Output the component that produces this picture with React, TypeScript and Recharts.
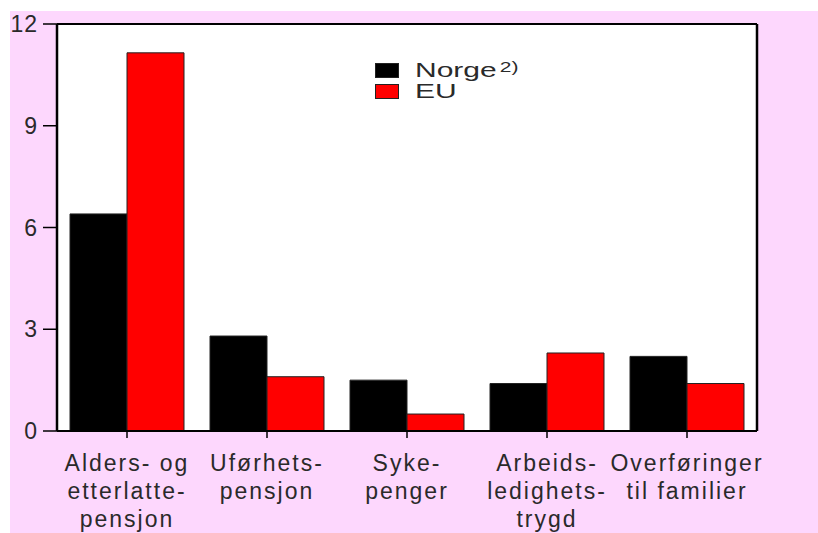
import { FC } from "react";
import {
  BarChart,
  Bar,
  XAxis,
  YAxis,
  ReferenceArea,
  ReferenceLine,
} from "recharts";

const categories = [
  "Alders- og|etterlatte-|pensjon",
  "Uførhets-|pensjon",
  "Syke-|penger",
  "Arbeids-|ledighets-|trygd",
  "Overføringer|til familier",
];
const norge = [6.4, 2.8, 1.5, 1.4, 2.2];
const eu = [11.15, 1.6, 0.5, 2.3, 1.4];
const yTicks = [0, 3, 6, 9, 12];

const data = categories.map((c, i) => ({ name: c, norge: norge[i], eu: eu[i] }));

const FONT = "'Liberation Sans', Arial, sans-serif";
const TEXT = "#2a2a2a";

const CategoryTick = (props: any) => {
  const { x, payload } = props;
  const lines = String(payload.value).split("|");
  return (
    <text
      x={x}
      y={471}
      textAnchor="middle"
      fill={TEXT}
      fontSize={23}
      fontFamily={FONT}
      letterSpacing={2}
    >
      {lines.map((l, i) => (
        <tspan key={i} x={x} dy={i === 0 ? 0 : 28}>
          {l}
        </tspan>
      ))}
    </text>
  );
};

const LegendBox: FC = () => (
  <div
    style={{
      position: "absolute",
      left: 375,
      top: 60,
      fontFamily: FONT,
      color: TEXT,
      fontSize: 20,
      lineHeight: "20px",
    }}
  >
    {[
      { label: "Norge", sup: "2)", color: "#000" },
      { label: "EU", sup: "", color: "#ff0000" },
    ].map((it) => (
      <div key={it.label} style={{ display: "flex", alignItems: "center", height: 20, marginBottom: 1 }}>
        <span
          style={{
            display: "inline-block",
            width: 22,
            height: 13,
            background: it.color,
            border: "1px solid #222",
            marginRight: 16,
          }}
        />
        <span style={{ display: "inline-block", transform: "scaleX(1.5)", transformOrigin: "left center" }}>
          {it.label}
          {it.sup && (
            <span style={{ fontSize: 14, lineHeight: "14px", position: "relative", top: -5, marginLeft: 2 }}>
              {it.sup}
            </span>
          )}
        </span>
      </div>
    ))}
  </div>
);

const App: FC = () => {
  return (
    <div style={{ position: "absolute", left: 0, top: 0, width: 818, height: 533, background: "#fff" }}>
      <div
        style={{
          position: "absolute",
          left: 10,
          top: 11,
          width: 808,
          height: 522,
          background: "#fdd7fd",
        }}
      />
      <div style={{ position: "absolute", left: 0, top: 0 }}>
        <BarChart
          width={818}
          height={533}
          data={data}
          margin={{ top: 24, right: 0, left: 0, bottom: 0 }}
          barGap={0}
          barCategoryGap={13}
        >
          <ReferenceArea yAxisId="left" y1={0} y2={12} fill="#ffffff" fillOpacity={1} stroke="none" />
          <XAxis
            dataKey="name"
            height={102}
            interval={0}
            tick={<CategoryTick />}
            tickSize={7}
            axisLine={{ stroke: "#000", strokeWidth: 2 }}
            tickLine={{ stroke: "#000", strokeWidth: 1.5 }}
          />
          <YAxis
            yAxisId="left"
            width={57}
            domain={[0, 12]}
            ticks={yTicks}
            tickSize={14}
            tickMargin={5}
            axisLine={{ stroke: "#000", strokeWidth: 2.5 }}
            tickLine={{ stroke: "#000", strokeWidth: 1.5 }}
            tick={{ fill: TEXT, fontSize: 23, fontFamily: FONT, letterSpacing: 1 }}
          />
          <YAxis
            yAxisId="right"
            orientation="right"
            width={61}
            domain={[0, 12]}
            ticks={yTicks}
            tickSize={14}
            tickMargin={10}
            axisLine={{ stroke: "#000", strokeWidth: 2.5 }}
            tickLine={{ stroke: "#000", strokeWidth: 1.5 }}
            tick={{ fill: TEXT, fontSize: 23, fontFamily: FONT, letterSpacing: 1 }}
          />
          <ReferenceLine yAxisId="left" y={12} stroke="#000" strokeWidth={2} />
          <Bar yAxisId="left" dataKey="norge" fill="#000" stroke="#222" strokeWidth={1} isAnimationActive={false} />
          <Bar yAxisId="left" dataKey="eu" fill="#ff0000" stroke="#222" strokeWidth={1} isAnimationActive={false} />
        </BarChart>
      </div>
      <LegendBox />
    </div>
  );
};

export default App;
